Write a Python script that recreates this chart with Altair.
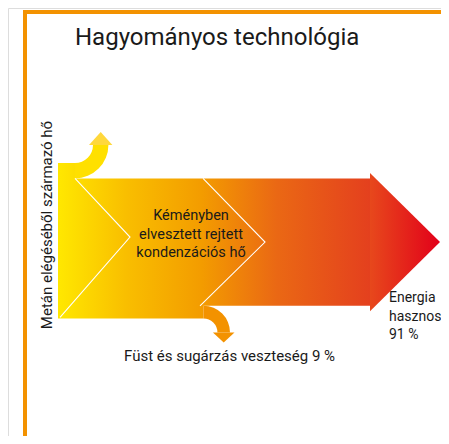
import math
import altair as alt
import pandas as pd

# ---------------- data ----------------
title_text = "Hagyományos technológia"
source_label = "Metán elégéséből származó hő"
flow_names = ["Kéményben elvesztett rejtett kondenzációs hő", "Energia hasznosítás", "Füst és sugárzás veszteség"]
flow_values = [11, 91, 9]          # percent (up-flow, main flow, down-flow)
up_label_lines = ["Kéményben", "elvesztett rejtett", "kondenzációs hő"]
main_label_lines = ["Energia", "hasznosítás", "91 %"]
down_label_lines = ["Füst és sugárzás veszteség 9 %"]

grad_offsets = [0.0, 0.22, 0.46, 0.70, 1.0]
grad_colors = ["#FFE800", "#F9BE00", "#F39C00", "#EA6814", "#E4401E"]
head_colors = ["#E7481C", "#E2001A"]
up_color, up_head_color = "#FFE000", "#FFD83C"
down_color = "#F39200"
frame_color = "#F39200"
text_color = "#1A1A1A"
FONT = "Roboto"

# ---------------- layout (derived from the flow values) ----------------
K = 1.4                    # px per percent
X0, Y0 = 58, 163           # left edge / top of the source band
X_UP = 75                  # where the up-flow starts to bend
X_DOWN = 203.4             # where the down-flow starts to bend
X_BODY_END, X_TIP = 370, 440
up_v, main_v, down_v = flow_values
y_main_top = Y0 + K * up_v
y_main_bot = y_main_top + K * main_v
y_down_bot = y_main_bot + K * down_v
EPS = 0.01

body = pd.DataFrame({
    "x":  [X0, X_UP, X_UP + EPS, X_DOWN, X_DOWN + EPS, X_BODY_END],
    "y":  [Y0, Y0, y_main_top, y_main_top, y_main_top, y_main_top],
    "y2": [y_down_bot, y_down_bot, y_down_bot, y_down_bot, y_main_bot, y_main_bot],
})
mid = (y_main_top + y_main_bot) / 2
pad = 5.5
head = pd.DataFrame({"x": [X_BODY_END, X_TIP],
                     "y": [y_main_top - pad, mid], "y2": [y_main_bot + pad, mid]})

r1_up = 18
r2_up = r1_up + K * up_v
cy_up = Y0 - r1_up
up_arc = pd.DataFrame({"x": [X_UP], "y": [cy_up]})
sx1, sx2 = X_UP + r1_up, X_UP + r2_up
hw = 4
up_head = pd.DataFrame({"x": [sx1 - hw, (sx1 + sx2) / 2, sx2 + hw],
                        "y": [cy_up, cy_up - 13, cy_up], "y2": [cy_up, cy_up, cy_up]})

r1_dn = 14
r2_dn = r1_dn + K * down_v
cy_dn = y_main_bot + r2_dn
down_arc = pd.DataFrame({"x": [X_DOWN], "y": [cy_dn]})
dx1, dx2 = X_DOWN + r1_dn, X_DOWN + r2_dn
down_head = pd.DataFrame({"x": [dx1 - 4.5, (dx1 + dx2) / 2, dx2 + 4.5],
                          "y": [cy_dn, cy_dn, cy_dn], "y2": [cy_dn, cy_dn + 10, cy_dn]})

chev = pd.DataFrame({
    "x": [X_UP, 130, X0 + 2, X_DOWN - 0.4, 265, X_DOWN - 3.4],
    "y": [y_main_top, 237, y_down_bot - 1, y_main_top, mid, y_main_bot],
    "g": [0, 0, 0, 1, 1, 1],
    "o": [0, 1, 2, 0, 1, 2],
})

# ---------------- chart frame (page pixels) ----------------
W, H = 433, 428
XMAX, YMAX = 8 + W, 8 + H

frame = pd.DataFrame({"x": [23, 25], "x2": [XMAX, 25], "y": [12, 10], "y2": [12, YMAX]})

LH = 18.5
texts = pd.DataFrame(
    [{"t": title_text, "x": 75, "y": 45, "s": 24, "a": "left", "b": "alphabetic"}]
    + [{"t": s, "x": 191, "y": 216 + i * LH, "s": 14.5, "a": "center", "b": "middle"}
       for i, s in enumerate(up_label_lines)]
    + [{"t": s, "x": 389, "y": 298 + i * LH, "s": 14, "a": "left", "b": "middle"}
       for i, s in enumerate(main_label_lines)]
    + [{"t": s, "x": 124, "y": 356, "s": 15, "a": "left", "b": "middle"}
       for s in down_label_lines]
)
vtext = pd.DataFrame([{"t": source_label, "x": 47, "y": 225}])

xs = alt.Scale(domain=[8, XMAX], nice=False, zero=False)
ys = alt.Scale(domain=[8, YMAX], nice=False, zero=False, reverse=True)
X = lambda f="x": alt.X(f"{f}:Q", scale=xs, axis=None)
Y = lambda f="y": alt.Y(f"{f}:Q", scale=ys, axis=None)

def grad(colors, offsets):
    return alt.Gradient(gradient="linear", x1=0, x2=1, y1=0, y2=0,
                        stops=[alt.GradientStop(color=c, offset=o) for c, o in zip(colors, offsets)])

body_l = alt.Chart(body).mark_area(color=grad(grad_colors, grad_offsets)).encode(
    x=X(), y=Y(), y2="y2:Q")
head_l = alt.Chart(head).mark_area(color=grad(head_colors, [0, 1])).encode(x=X(), y=Y(), y2="y2:Q")
up_l = alt.Chart(up_arc).mark_arc(color=up_color, radius=r2_up, radius2=r1_up,
                                  theta=math.pi / 2, theta2=math.pi).encode(x=X(), y=Y())
up_head_l = alt.Chart(up_head).mark_area(color=up_head_color).encode(x=X(), y=Y(), y2="y2:Q")
dn_l = alt.Chart(down_arc).mark_arc(color=down_color, radius=r2_dn, radius2=r1_dn,
                                    theta=0, theta2=math.pi / 2).encode(x=X(), y=Y())
dn_head_l = alt.Chart(down_head).mark_area(color=down_color).encode(x=X(), y=Y(), y2="y2:Q")
chev_l = alt.Chart(chev).mark_line(color="white", strokeWidth=1.1).encode(
    x=X(), y=Y(), detail="g:N", order="o:Q")
frame_l = alt.Chart(frame).mark_rule(color=frame_color, strokeWidth=4).encode(
    x=X(), x2="x2:Q", y=Y(), y2="y2:Q")

def text_layer(df, align, baseline):
    return alt.Chart(df).mark_text(font=FONT, color=text_color, align=align, baseline=baseline).encode(
        x=X(), y=Y(), text="t:N", size=alt.Size("s:Q", scale=None, legend=None))

t_left_alpha = text_layer(texts[(texts.a == "left") & (texts.b == "alphabetic")], "left", "alphabetic")
t_left_mid = text_layer(texts[(texts.a == "left") & (texts.b == "middle")], "left", "middle")
t_center = text_layer(texts[texts.a == "center"], "center", "middle")
t_vert = alt.Chart(vtext).mark_text(font=FONT, color=text_color, align="center", baseline="middle",
                                    angle=270, fontSize=15).encode(x=X(), y=Y(), text="t:N")

chart = alt.layer(body_l, head_l, up_l, up_head_l, dn_l, dn_head_l, chev_l, frame_l,
                  t_left_alpha, t_left_mid, t_center, t_vert).properties(
    width=W, height=H, padding=0, autosize=alt.AutoSizeParams(type="none")
).configure_view(strokeWidth=0).configure(background="white")

chart.save("out.html", embed_options={"renderer": "svg", "actions": False})
